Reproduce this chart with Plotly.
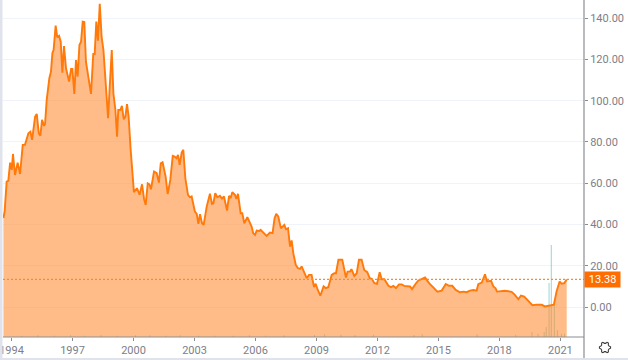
import math
import plotly.graph_objects as go

years = [1993.60,1993.66,1993.76,1993.84,1993.93,1994.01,1994.07,1994.17,1994.30,1994.42,1994.55,1994.66,1994.83,1994.93,1995.01,1995.16,1995.24,1995.34,1995.42,1995.50,1995.60,1995.65,1995.73,1995.86,1995.94,1996.01,1996.07,1996.17,1996.25,1996.34,1996.42,1996.50,1996.58,1996.68,1996.83,1996.93,1996.99,1997.09,1997.17,1997.25,1997.34,1997.42,1997.50,1997.58,1997.66,1997.78,1997.91,1998.02,1998.09,1998.17,1998.25,1998.34,1998.43,1998.52,1998.65,1998.75,1998.83,1998.93,1999.01,1999.11,1999.19,1999.25,1999.35,1999.43,1999.52,1999.60,1999.68,1999.76,1999.86,2000.02,2000.17,2000.30,2000.42,2000.52,2000.60,2000.70,2000.78,2000.86,2001.01,2001.14,2001.25,2001.34,2001.43,2001.58,2001.68,2001.81,2001.93,2002.02,2002.11,2002.19,2002.27,2002.37,2002.45,2002.55,2002.68,2002.78,2002.86,2003.02,2003.11,2003.19,2003.27,2003.37,2003.45,2003.60,2003.76,2003.86,2003.93,2004.02,2004.12,2004.25,2004.35,2004.45,2004.60,2004.70,2004.78,2004.86,2004.99,2005.06,2005.14,2005.27,2005.35,2005.45,2005.60,2005.73,2005.81,2005.89,2005.98,2006.06,2006.19,2006.25,2006.39,2006.55,2006.71,2006.84,2006.94,2007.02,2007.12,2007.25,2007.42,2007.50,2007.60,2007.70,2007.78,2007.86,2007.98,2008.08,2008.19,2008.27,2008.36,2008.52,2008.63,2008.76,2008.88,2008.96,2009.06,2009.19,2009.35,2009.45,2009.58,2009.75,2009.88,2009.96,2010.08,2010.27,2010.45,2010.53,2010.65,2010.72,2010.86,2010.98,2011.09,2011.22,2011.35,2011.50,2011.62,2011.72,2011.85,2011.98,2012.11,2012.21,2012.34,2012.54,2012.67,2012.78,2012.91,2013.06,2013.19,2013.31,2013.60,2013.70,2013.88,2014.01,2014.17,2014.34,2014.54,2014.75,2014.95,2015.16,2015.36,2015.52,2015.68,2015.85,2016.06,2016.22,2016.39,2016.55,2016.72,2016.88,2016.96,2017.13,2017.29,2017.39,2017.59,2017.70,2017.81,2017.88,2018.27,2018.60,2018.76,2018.93,2019.06,2019.22,2019.42,2019.62,2019.83,2020.08,2020.24,2020.49,2020.68,2020.81,2020.96,2021.06,2021.19,2021.31]
prices = [43.1,46.3,60.8,61.2,70.0,66.5,74.2,64.0,70.0,64.5,78.6,78.6,84.2,85.0,81.0,92.3,93.6,84.2,83.1,90.7,87.8,88.8,100.4,110.9,114.1,123.0,124.6,136.4,130.7,131.4,128.6,113.6,126.5,115.7,109.3,115.4,115.4,103.3,119.7,111.7,127.0,128.6,138.3,138.1,118.9,110.9,103.3,122.6,122.6,138.3,129.1,146.9,131.0,124.6,106.8,91.5,106.8,124.6,103.6,95.5,82.6,95.5,95.5,97.5,91.0,92.3,98.4,92.3,76.2,55.7,57.6,54.4,59.5,52.3,49.5,60.0,59.5,57.1,65.7,64.9,60.3,69.7,70.2,63.2,54.8,61.6,73.3,72.9,72.1,73.7,68.9,74.9,76.2,62.4,54.4,53.2,53.6,46.3,45.2,40.3,45.0,40.6,39.8,48.7,54.9,50.0,50.3,55.2,53.2,53.9,52.6,53.6,46.8,53.9,52.8,55.7,54.4,52.4,54.9,45.5,45.5,40.6,43.6,40.3,39.0,35.8,35.0,37.1,36.9,37.4,35.8,34.5,36.1,35.8,43.1,45.2,43.9,38.2,39.8,37.7,38.2,29.3,32.3,26.1,20.5,18.9,18.5,19.7,17.7,14.0,15.6,15.6,9.7,11.3,8.4,5.5,10.0,9.2,9.65,15.6,16.4,16.4,22.9,22.9,14.3,17.2,17.2,18.4,15.1,16.4,22.9,22.9,18.0,16.9,14.0,13.7,11.6,11.3,16.9,13.5,13.5,10.3,9.7,10.3,9.2,11.0,11.0,10.3,10.0,8.7,11.3,12.9,13.5,14.3,11.6,9.6,7.5,8.0,11.2,10.3,10.3,8.3,7.2,7.5,7.2,8.0,8.3,8.0,11.1,11.9,15.9,12.4,12.7,10.0,9.1,7.5,7.9,7.4,5.9,3.8,5.6,5.1,3.0,0.9,1.2,1.1,0.3,0.9,1.2,7.5,12.4,11.3,11.6,13.38]

volume_years = [1994.5,1995.3,1996.1,1996.9,1997.6,1998.4,1999.2,2000.1,2000.8,2001.6,2002.3,2003.2,2004.0,2004.9,2005.7,2006.5,2007.4,2008.9,2009.4,2010.2,2010.9,2011.8,2013.8,2014.2,2016.9,2018.8,2019.6,2019.9,2020.2,2020.3,2020.44,2020.55,2020.7,2020.85,2021.05,2021.2]
volume_vals = [0.4,0.5,0.4,0.5,0.4,0.6,0.4,0.5,0.5,0.4,0.5,0.4,0.4,0.4,0.5,0.4,0.5,0.6,0.8,0.7,0.6,0.7,0.6,0.8,0.8,0.7,1.5,1.0,1.5,3.0,16.0,27.3,11.0,2.0,1.0,1.0]

tick_years = [1994,1997,2000,2003,2006,2009,2012,2015,2018,2021]
tick_labels = ["1994","1997","2000","2003","2006","2009","2012","2015","2018","2021"]
price_ticks = [0,20,40,60,80,100,120,140]
price_tick_labels = ["0.00","20.00","40.00","60.00","80.00","100.00","120.00","140.00"]

last_price = prices[-1]
x_range = [1993.58, 2022.16]
y_range = [-14.5, 148.8]
floor_line = [y_range[0]] * len(years)

ORANGE = "#ff7a0a"
GREY = "#7d8089"
AXIS = "#8a8d94"

fig = go.Figure()
fig.add_trace(go.Bar(x=volume_years, y=volume_vals, width=0.045, yaxis="y",
                     marker=dict(color="rgba(38,166,154,0.5)", line_width=0), showlegend=False, hoverinfo="skip"))
fig.add_trace(go.Scatter(x=years, y=floor_line, mode="lines", yaxis="y2", line=dict(width=0), showlegend=False, hoverinfo="skip"))
fig.add_trace(go.Scatter(x=years, y=prices, mode="lines", fill="tonexty", yaxis="y2",
                         fillcolor="rgba(255,140,50,0.58)",
                         line=dict(color=ORANGE, width=1.9), showlegend=False))
fig.add_trace(go.Scatter(x=x_range, y=[last_price, last_price], mode="lines", yaxis="y2",
                         line=dict(color="#ff8a1f", width=1.3, dash="2px,2px"), showlegend=False, hoverinfo="skip"))

def px_x(p):
    return (p - 3) / 581
def px_y(p):
    return (337 - p) / 337

# settings-gear outline in the bottom-right corner
gear_pts = []
for i in range(24):
    a = 2 * math.pi * (i - 0.5) / 24
    r = 5.6 if i % 4 in (0, 1) else 4.2
    gear_pts.append((605 + r * math.cos(a), 347.5 + r * math.sin(a)))
gear_path = "M " + " L ".join(f"{px_x(a):.5f} {px_y(b):.5f}" for a, b in gear_pts) + " Z"

shapes = [
    dict(type="line", xref="paper", yref="paper", x0=px_x(584), x1=px_x(584), y0=px_y(358), y1=1,
         line=dict(color=AXIS, width=1.2), layer="above"),
    dict(type="line", xref="paper", yref="paper", x0=0, x1=1, y0=0, y1=0,
         line=dict(color=AXIS, width=1.2), layer="above"),
    dict(type="rect", xref="paper", yref="paper", x0=px_x(0), x1=px_x(2.5), y0=px_y(360), y1=1,
         fillcolor="#e0e3eb", line_width=0, layer="above"),
    dict(type="rect", xref="paper", yref="paper", x0=px_x(0), x1=px_x(628), y0=px_y(360), y1=px_y(358),
         fillcolor="#e0e3eb", line_width=0, layer="above"),
    dict(type="path", xref="paper", yref="paper", path=gear_path, line=dict(color="#3c3c3c", width=1.1), layer="above"),
]

annotations = [
    dict(xref="paper", yref="y2", x=px_x(584), y=last_price, xanchor="left", yanchor="middle",
         text=" 13.38 ", showarrow=False, bgcolor="#ff6d00",
         font=dict(color="white", size=11, family="Roboto"), borderpad=1),
    dict(xref="paper", yref="paper", x=px_x(10), y=1, xanchor="left", yanchor="bottom", yshift=-5,
         text="Vol", showarrow=False, font=dict(color=GREY, size=12, family="Roboto")),
    dict(xref="paper", yref="paper", x=px_x(29), y=1, xanchor="left", yanchor="bottom", yshift=-5,
         text="36.652M", showarrow=False, font=dict(color="#26a69a", size=12, family="Roboto")),
]

fig.update_layout(
    width=628, height=360, margin=dict(l=3, r=44, t=0, b=23),
    paper_bgcolor="white", plot_bgcolor="white", barmode="overlay",
    font=dict(family="Roboto", size=11, color=GREY),
    shapes=shapes, annotations=annotations,
    xaxis=dict(range=x_range, tickmode="array", tickvals=tick_years, ticktext=tick_labels,
               showgrid=False, zeroline=False, ticks="outside", ticklen=3, tickcolor=AXIS,
               ticklabeloverflow="allow",
               tickfont=dict(size=11, color=GREY, family="Roboto")),
    yaxis=dict(range=[0, 100], side="left", visible=False),
    yaxis2=dict(range=y_range, overlaying="y", side="right", tickmode="array", tickvals=price_ticks, ticktext=price_tick_labels,
                showgrid=True, gridcolor="#f0f3fa", zeroline=False, ticks="outside", ticklen=3, tickcolor=AXIS,
                tickfont=dict(size=11, color=GREY, family="Roboto")),
)

fig.write_html("out.html", config=dict(displayModeBar=False),
               post_script="document.body.style.margin='0';document.body.style.overflow='hidden';")
